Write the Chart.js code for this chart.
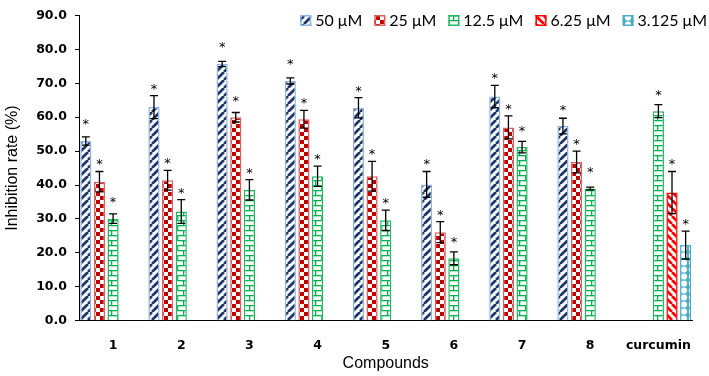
<!DOCTYPE html>
<html><head><meta charset="utf-8">
<script src="https://cdn.jsdelivr.net/npm/chart.js@4"></script>
<style>html,body{margin:0;padding:0;background:#fff}#wrap{width:709px;height:376px;position:relative}</style>
</head><body><div id="wrap"><canvas id="c"></canvas></div>
<script>
// ---- data ----
const categories = ['1', '2', '3', '4', '5', '6', '7', '8', 'curcumin'];
const seriesNames = ['50 μM', '25 μM', '12.5 μM', '6.25 μM', '3.125 μM'];
const values50  = [53.0, 63.0, 75.7, 70.7, 62.8, 40.2, 66.1, 57.4, null];
const errors50  = [1.2, 3.4, 0.8, 0.9, 3.0, 3.8, 3.3, 2.3, null];
const values25  = [41.0, 41.4, 60.0, 59.4, 42.6, 26.1, 57.0, 46.8, null];
const errors25  = [3.0, 2.9, 1.4, 2.6, 4.4, 3.1, 3.4, 3.2, null];
const values12  = [30.1, 32.2, 38.6, 42.6, 29.6, 18.4, 51.2, 39.0, 61.8];
const errors12  = [1.4, 3.5, 3.0, 3.0, 3.0, 1.9, 1.7, 0.4, 1.9];
const values6   = [null, null, null, null, null, null, null, null, 37.8];
const errors6   = [null, null, null, null, null, null, null, null, 6.2];
const values3   = [null, null, null, null, null, null, null, null, 22.3];
const errors3   = [null, null, null, null, null, null, null, null, 4.1];
const marks50 = ['*', '*', '*', '*', '*', '*', '*', '*', ''];
const marks25 = ['*', '*', '*', '*', '*', '*', '*', '*', ''];
const marks12 = ['*', '*', '*', '*', '*', '*', '*', '*', '*'];
const marks6  = ['', '', '', '', '', '', '', '', '*'];
const marks3  = ['', '', '', '', '', '', '', '', '*'];
const yMin = 0, yMax = 90, yStep = 10;
const xTitle = 'Compounds';
const yTitle = 'Inhibition rate (%)';

// ---- patterns ----
function makePattern(kind) {
  const c = document.createElement('canvas');
  const g = c.getContext('2d');
  if (kind === 'up' || kind === 'down') {
    c.width = 8; c.height = 8;
    g.fillStyle = '#fff'; g.fillRect(0, 0, 8, 8);
    g.strokeStyle = kind === 'up' ? '#1c3466' : '#ff0000';
    g.lineWidth = 2.7;
    g.beginPath();
    for (const k of [-8, 0, 8]) {
      if (kind === 'up') { g.moveTo(k, 8); g.lineTo(k + 8, 0); }
      else { g.moveTo(k, 0); g.lineTo(k + 8, 8); }
    }
    g.stroke();
  } else if (kind === 'checker') {
    c.width = 8; c.height = 8;
    g.fillStyle = '#fff'; g.fillRect(0, 0, 8, 8);
    g.fillStyle = '#c00000';
    g.fillRect(0, 0, 4, 4); g.fillRect(4, 4, 4, 4);
  } else if (kind === 'brick') {
    c.width = 12; c.height = 10;
    g.fillStyle = '#fff'; g.fillRect(0, 0, 12, 10);
    g.fillStyle = '#00b050';
    g.fillRect(0, 0, 12, 1.3); g.fillRect(0, 5, 12, 1.3);
    g.fillRect(3, 0, 1.3, 5); g.fillRect(9, 5, 1.3, 5);
  } else if (kind === 'dots') {
    c.width = 8; c.height = 7;
    g.fillStyle = '#4bacc6'; g.fillRect(0, 0, 8, 7);
    g.fillStyle = '#fff';
    g.beginPath(); g.arc(4, 3.5, 3.1, 0, Math.PI * 2); g.fill();
  }
  return g.createPattern(c, 'repeat');
}

const errorBarPlugin = {
  id: 'errorBars',
  afterDatasetsDraw(chart) {
    const ctx = chart.ctx, ys = chart.scales.y;
    chart.data.datasets.forEach((ds, i) => {
      const meta = chart.getDatasetMeta(i);
      meta.data.forEach((bar, j) => {
        const v = ds.data[j];
        if (v == null) return;
        const e = ds.errors[j] || 0;
        const yt = ys.getPixelForValue(v + e), yb = ys.getPixelForValue(v - e);
        ctx.save();
        ctx.strokeStyle = '#000'; ctx.lineWidth = 1.3;
        ctx.beginPath();
        ctx.moveTo(bar.x, yt); ctx.lineTo(bar.x, yb);
        ctx.moveTo(bar.x - 4, yt); ctx.lineTo(bar.x + 4, yt);
        ctx.moveTo(bar.x - 4, yb); ctx.lineTo(bar.x + 4, yb);
        ctx.stroke();
        const s = ds.marks[j];
        if (s) {
          const cy = Math.min(bar.y - 19.5, yt - 10);
          ctx.font = '13px "DejaVu Sans"';
          ctx.textAlign = 'center'; ctx.textBaseline = 'alphabetic';
          ctx.fillStyle = '#000';
          ctx.fillText(s, bar.x, cy + 7);
        }
        ctx.restore();
      });
    });
  }
};

const legendPlugin = {
  id: 'customLegend',
  afterDraw(chart) {
    const ctx = chart.ctx;
    ctx.save();
    ctx.font = '16px Lato';
    const items = chart.data.datasets.map(ds => ({ label: ds.label, w: ctx.measureText(ds.label).width, bg: ds.backgroundColor, bc: ds.borderColor }));
    const box = 11, gapText = 4, gapItem = 12;
    const total = items.reduce((s, it) => s + box + gapText + it.w, 0) + gapItem * (items.length - 1);
    let x = chart.width - 2 - total;
    const yc = 20.5;
    items.forEach(it => {
      ctx.fillStyle = it.bg; ctx.fillRect(x, yc - 5.5, box, box);
      ctx.strokeStyle = it.bc; ctx.lineWidth = 1.5;
      ctx.strokeRect(x + 0.75, yc - 4.75, box - 1.5, box - 1.5);
      ctx.fillStyle = '#000'; ctx.textBaseline = 'middle'; ctx.textAlign = 'left';
      ctx.fillText(it.label, x + box + gapText, yc);
      x += box + gapText + it.w + gapItem;
    });
    ctx.restore();
  }
};

const seriesDefs = [
  { data: values50, errors: errors50, marks: marks50, bg: makePattern('up'), bc: '#8db4e2' },
  { data: values25, errors: errors25, marks: marks25, bg: makePattern('checker'), bc: '#e06060' },
  { data: values12, errors: errors12, marks: marks12, bg: makePattern('brick'), bc: '#22b760' },
  { data: values6,  errors: errors6,  marks: marks6,  bg: makePattern('down'), bc: '#ff0000' },
  { data: values3,  errors: errors3,  marks: marks3,  bg: makePattern('dots'), bc: '#4bacc6' }
];

new Chart(document.getElementById('c'), {
  type: 'bar',
  data: {
    labels: categories,
    datasets: seriesDefs.map((s, i) => ({
      label: seriesNames[i], data: s.data, errors: s.errors, marks: s.marks,
      backgroundColor: s.bg, borderColor: s.bc, borderWidth: 1.5,
      categoryPercentage: 1.0, barPercentage: 0.82
    }))
  },
  options: {
    responsive: true, maintainAspectRatio: false, animation: false,
    devicePixelRatio: 1,
    layout: { padding: { top: 6.7, right: 2.25, left: 0, bottom: 0 } },
    plugins: { legend: { display: false }, tooltip: { enabled: false } },
    scales: {
      x: {
        afterFit(scale) { scale.height = 55.3; },
        grid: { display: true, drawOnChartArea: false, drawTicks: false },
        border: { display: true, color: '#000', width: 1 },
        ticks: { color: '#000', font: { family: '"DejaVu Sans"', weight: 'bold', size: 12.5 }, padding: 18, maxRotation: 0, autoSkip: false },
        title: { display: true, text: xTitle, color: '#000', font: { family: '"Liberation Sans"', size: 16 }, padding: { top: 0, bottom: 2.4 } }
      },
      y: {
        min: yMin, max: yMax,
        afterFit(scale) { scale.width = 79; },
        grid: { display: true, drawOnChartArea: false, drawTicks: true, tickLength: 4, color: '#000' },
        border: { display: true, color: '#000', width: 1 },
        ticks: { stepSize: yStep, color: '#000', padding: 8, font: { family: '"DejaVu Sans"', weight: 'bold', size: 12.5 }, callback: v => Number(v).toFixed(1) },
        title: { display: true, text: yTitle, color: '#000', font: { family: '"Liberation Sans"', size: 16 }, padding: { top: 3.4, bottom: 0 } }
      }
    }
  },
  plugins: [errorBarPlugin, legendPlugin]
});
</script>
</body></html>
